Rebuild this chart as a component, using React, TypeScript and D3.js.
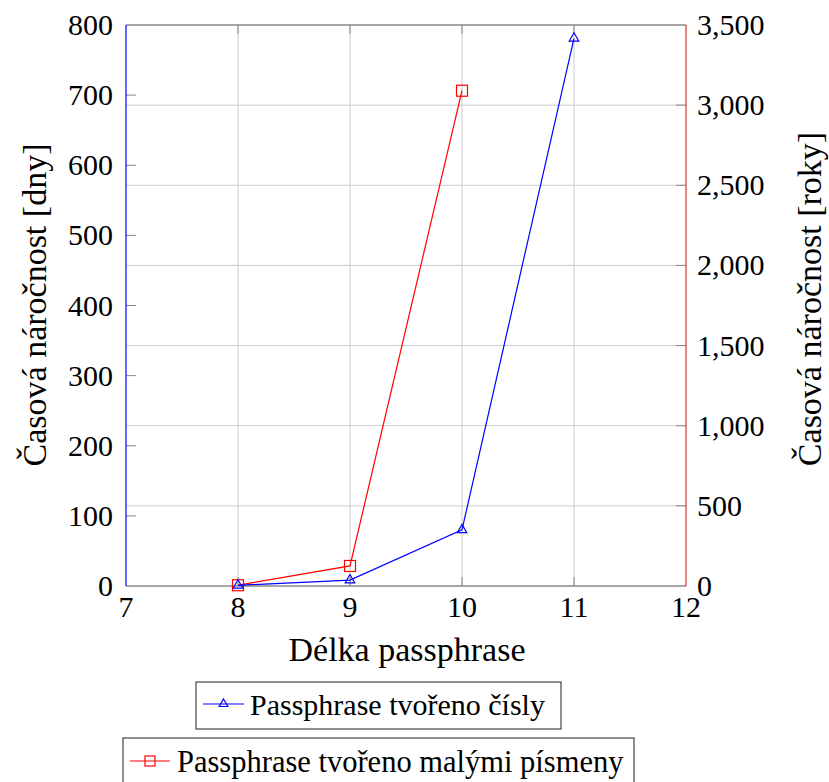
import React from "react";
import * as d3 from "d3";

const lengths = [8, 9, 10, 11];
const daysNumbers = [1, 8.5, 80, 781];
const lengthsLower = [8, 9, 10];
const yearsLower = [5, 125, 3090];
const xTicks = [7, 8, 9, 10, 11, 12];
const leftTicks = [0, 100, 200, 300, 400, 500, 600, 700, 800];
const rightTicks = [0, 500, 1000, 1500, 2000, 2500, 3000, 3500];
const xLabel = "Délka passphrase";
const leftLabel = "Časová náročnost [dny]";
const rightLabel = "Časová náročnost [roky]";
const legend1 = "Passphrase tvořeno čísly";
const legend2 = "Passphrase tvořeno malými písmeny";

const TS: React.CSSProperties = { fontFamily: "'Liberation Serif'", fontSize: 30 };
const LS: React.CSSProperties = { fontFamily: "'Liberation Serif'", fontSize: 34 };

export default function App() {
  const L = 126, R = 686, T = 25, B = 586;
  const x = d3.scaleLinear().domain([7, 12]).range([L, R]);
  const yL = d3.scaleLinear().domain([0, 800]).range([B, T]);
  const yR = d3.scaleLinear().domain([0, 3500]).range([B, T]);
  const fmt = d3.format(",");
  const blueLine = d3.line<number>().x((_, i) => x(lengths[i])).y((d) => yL(d));
  const redLine = d3.line<number>().x((_, i) => x(lengthsLower[i])).y((d) => yR(d));
  const tri = (cx: number, cy: number, r = 5.5) =>
    `M${cx},${cy - r}L${cx + r * 0.866},${cy + r / 2}L${cx - r * 0.866},${cy + r / 2}Z`;
  const grid = "#cccccc";
  const tick = "#888888";
  return (
    <svg width={829} height={782} style={{ position: "absolute", left: 0, top: 0 }}>
      <rect width={829} height={782} fill="white" />
      {/* grid */}
      {xTicks.slice(1, -1).map((t) => (
        <line key={"gx" + t} x1={x(t)} x2={x(t)} y1={T} y2={B} stroke={grid} strokeWidth={1} />
      ))}
      {rightTicks.slice(1, -1).map((t) => (
        <line key={"gy" + t} x1={L} x2={R} y1={yR(t)} y2={yR(t)} stroke={grid} strokeWidth={1} />
      ))}
      {/* ticks */}
      {xTicks.slice(1, -1).map((t) => (
        <g key={"tx" + t}>
          <line x1={x(t)} x2={x(t)} y1={B} y2={B - 9} stroke={tick} strokeWidth={1} />
          <line x1={x(t)} x2={x(t)} y1={T} y2={T + 9} stroke={tick} strokeWidth={1} />
        </g>
      ))}
      {leftTicks.slice(1, -1).map((t) => (
        <line key={"tl" + t} x1={L} x2={L + 10} y1={yL(t)} y2={yL(t)} stroke={tick} strokeWidth={1} />
      ))}
      {rightTicks.slice(1, -1).map((t) => (
        <line key={"tr" + t} x1={R - 10} x2={R} y1={yR(t)} y2={yR(t)} stroke={tick} strokeWidth={1} />
      ))}
      {/* axis frame */}
      <line x1={L} x2={R} y1={T} y2={T} stroke={tick} strokeWidth={1.3} />
      <line x1={L} x2={R} y1={B} y2={B} stroke={tick} strokeWidth={1.3} />
      <line x1={L} x2={L} y1={T} y2={B} stroke="blue" strokeWidth={1.2} />
      <line x1={R} x2={R} y1={T} y2={B} stroke="#e03030" strokeWidth={1.2} />
      {/* tick labels */}
      {xTicks.map((t) => (
        <text key={"lx" + t} x={x(t)} y={617} textAnchor="middle" style={TS}>{t}</text>
      ))}
      {leftTicks.map((t) => (
        <text key={"ll" + t} x={113} y={yL(t) + 10} textAnchor="end" style={TS}>{t}</text>
      ))}
      {rightTicks.map((t) => (
        <text key={"lr" + t} x={697} y={yR(t) + 10} textAnchor="start" style={TS}>{fmt(t)}</text>
      ))}
      {/* axis labels */}
      <text x={407} y={661} textAnchor="middle" style={LS}>{xLabel}</text>
      <text transform={`translate(46,${305}) rotate(-90)`} textAnchor="middle" style={LS}>{leftLabel}</text>
      <text transform={`translate(821,${299}) rotate(-90)`} textAnchor="middle" style={LS}>{rightLabel}</text>
      {/* data */}
      <path d={redLine(yearsLower) || ""} fill="none" stroke="red" strokeWidth={1.2} />
      {yearsLower.map((v, i) => (
        <rect key={"rm" + i} x={x(lengthsLower[i]) - 5.5} y={yR(v) - 5.5} width={11} height={11} fill="none" stroke="red" strokeWidth={1.2} />
      ))}
      <path d={blueLine(daysNumbers) || ""} fill="none" stroke="blue" strokeWidth={1.2} />
      {daysNumbers.map((v, i) => (
        <path key={"bm" + i} d={tri(x(lengths[i]), yL(v))} fill="none" stroke="blue" strokeWidth={1.2} />
      ))}
      {/* legend */}
      <rect x={196} y={682} width={365} height={47} fill="white" stroke="#444" strokeWidth={1.2} />
      <line x1={203} x2={244} y1={704} y2={704} stroke="blue" strokeWidth={1.2} />
      <path d={tri(223.5, 704, 5)} fill="none" stroke="blue" strokeWidth={1.2} />
      <text x={250} y={715} style={TS}>{legend1}</text>
      <rect x={123} y={738} width={511} height={50} fill="white" stroke="#444" strokeWidth={1.2} />
      <line x1={130} x2={170} y1={761} y2={761} stroke="red" strokeWidth={1.2} />
      <rect x={145} y={756} width={10} height={10} fill="none" stroke="red" strokeWidth={1.2} />
      <text x={177} y={772} style={{ ...TS, fontSize: 30.5 }}>{legend2}</text>
    </svg>
  );
}
